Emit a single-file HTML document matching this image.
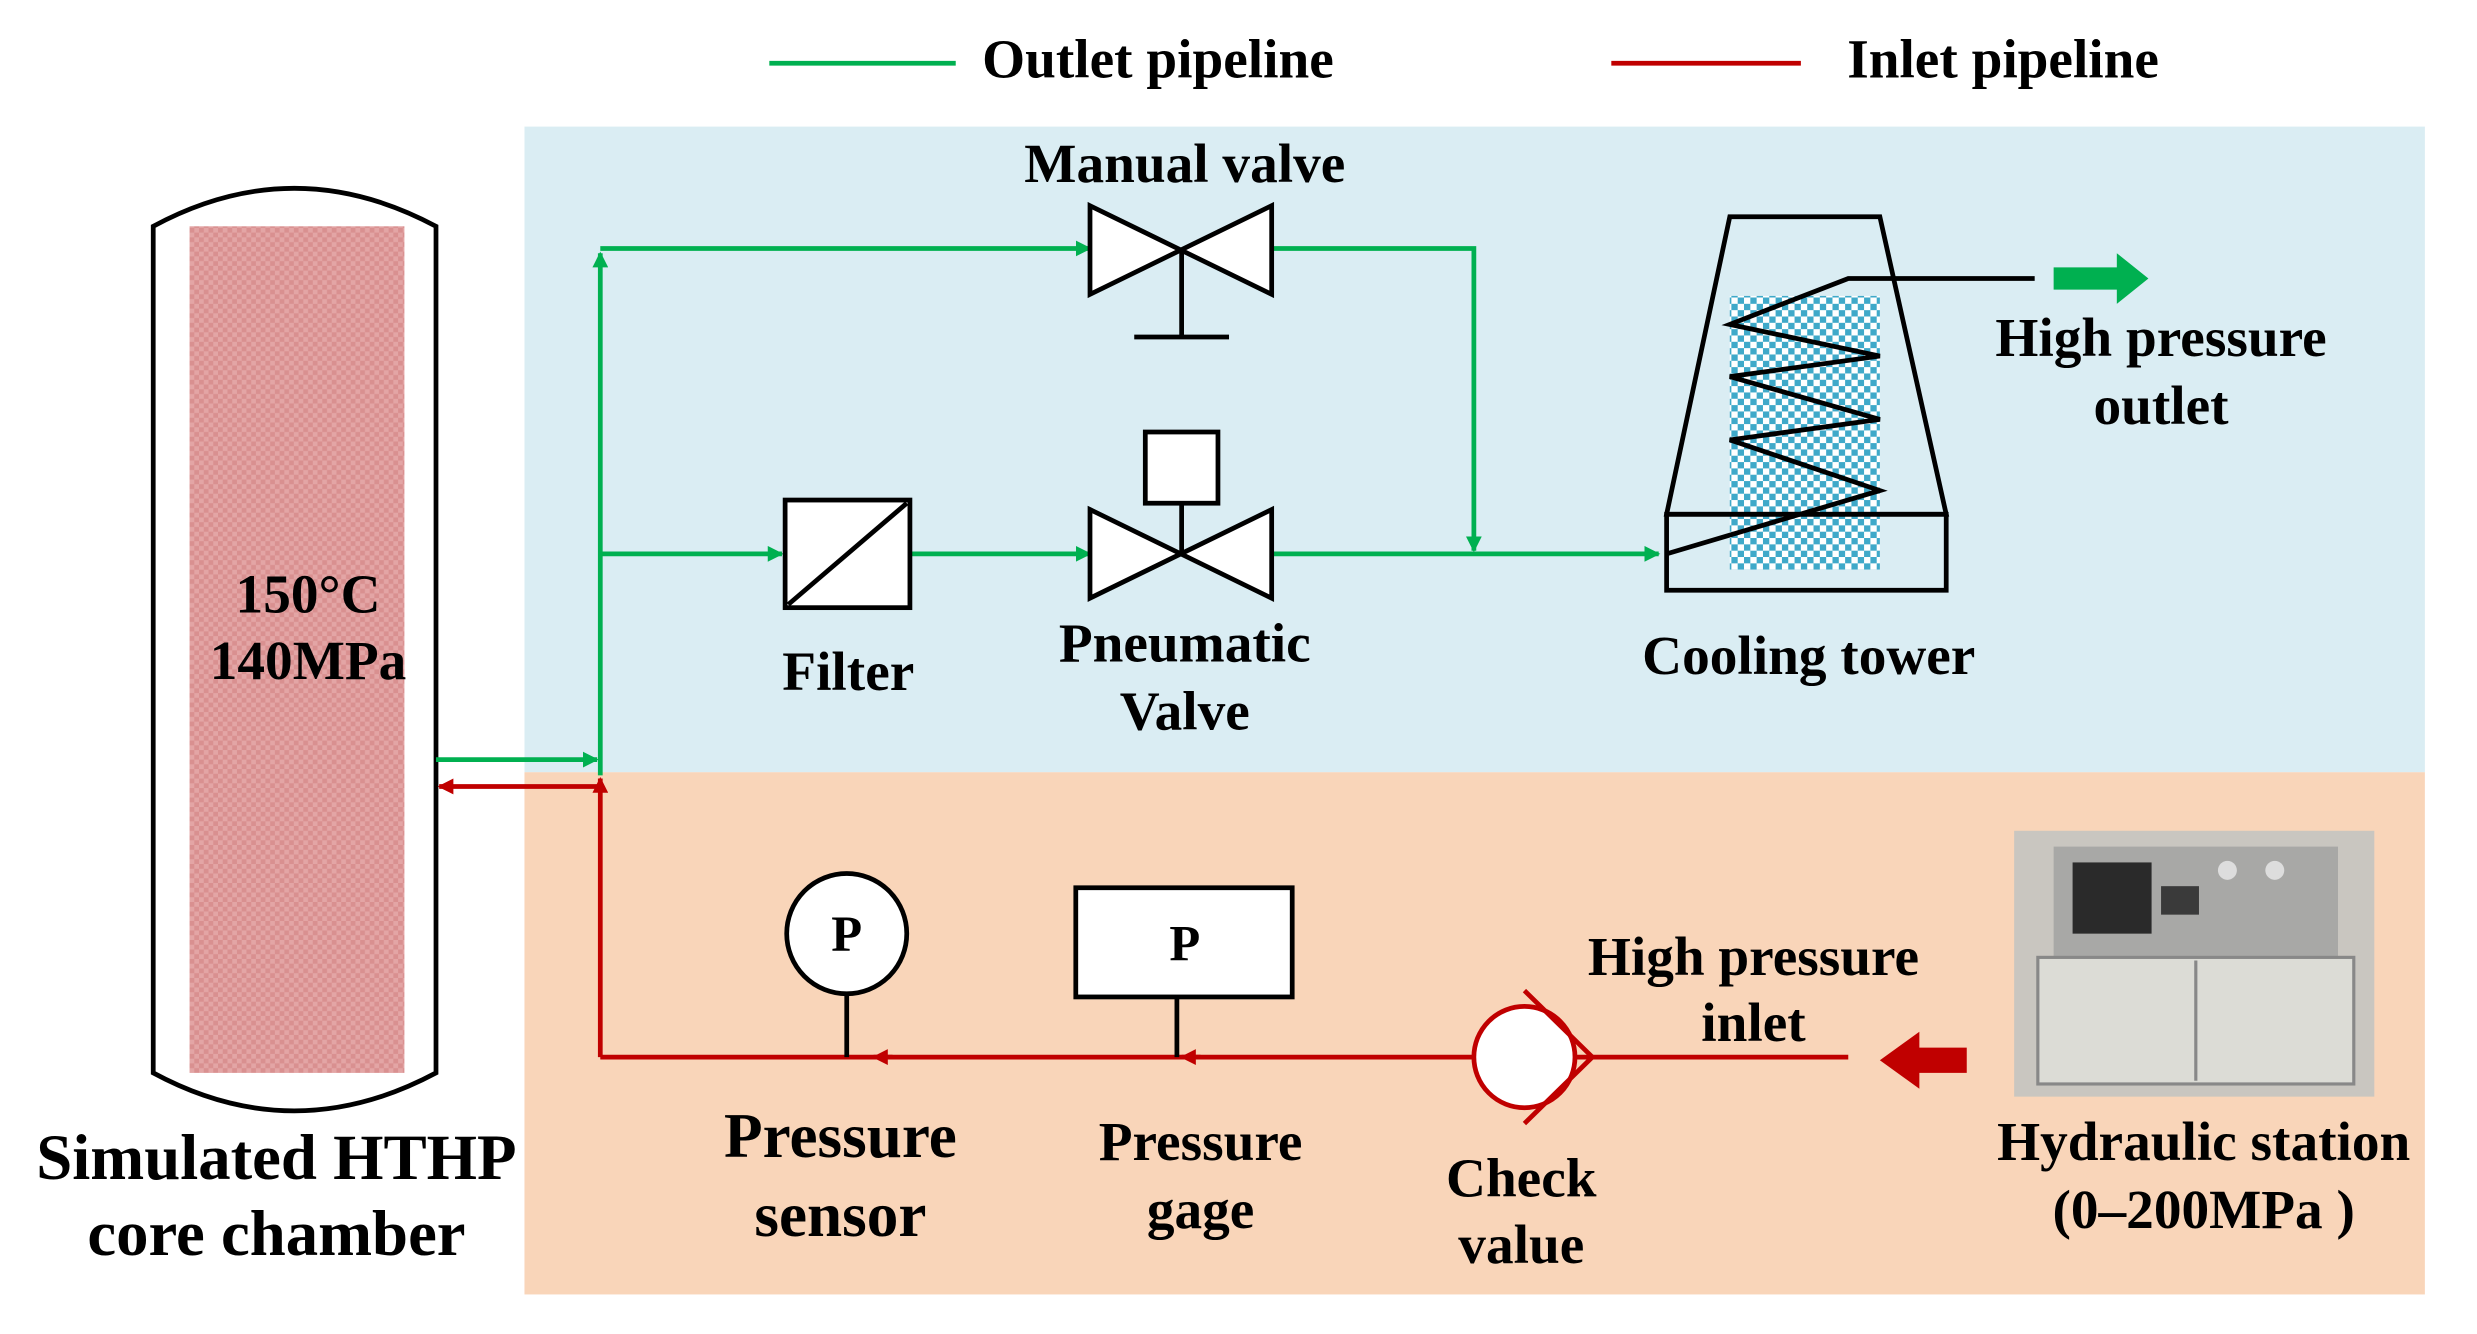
<!DOCTYPE html>
<html><head><meta charset="utf-8"><style>
html,body{margin:0;padding:0;background:#fff;}
svg{display:block;}
text{font-family:"Liberation Serif",serif;font-weight:bold;fill:#000;text-anchor:middle;}
</style></head><body>
<svg width="2477" height="1334" viewBox="0 0 1568 843" preserveAspectRatio="none" xmlns="http://www.w3.org/2000/svg">
<defs>
<marker id="ga" markerWidth="10" markerHeight="10" refX="9" refY="5" orient="auto" markerUnits="userSpaceOnUse" viewBox="0 0 10 10"><path d="M0,0 L10,5 L0,10 Z" fill="#00b050"/></marker>
<marker id="ra" markerWidth="10" markerHeight="10" refX="9" refY="5" orient="auto" markerUnits="userSpaceOnUse" viewBox="0 0 10 10"><path d="M0,0 L10,5 L0,10 Z" fill="#c00000"/></marker>
<pattern id="pk" width="6" height="6" patternUnits="userSpaceOnUse"><rect width="6" height="6" fill="#e3a5a5"/><rect width="3" height="3" fill="#d99090"/><rect x="3" y="3" width="3" height="3" fill="#d99090"/></pattern>
<pattern id="bl" width="8" height="8" patternUnits="userSpaceOnUse"><rect width="8" height="8" fill="#ffffff"/><rect width="4" height="4" fill="#3fa9c9"/><rect x="4" y="4" width="4" height="4" fill="#3fa9c9"/></pattern>
</defs>
<rect x="332" y="80" width="1203" height="408" fill="#daedf3"/>
<rect x="332" y="488" width="1203" height="330" fill="#f9d5b9"/>
<line x1="487" y1="40" x2="605" y2="40" stroke="#00b050" stroke-width="3"/>
<text x="733" y="49" font-size="35">Outlet pipeline</text>
<line x1="1020" y1="40" x2="1140" y2="40" stroke="#c00000" stroke-width="3"/>
<text x="1268" y="49" font-size="35">Inlet pipeline</text>
<path d="M97,143 Q186,95 276,143 L276,678 Q186,726 97,678 Z" fill="#fff" stroke="#000" stroke-width="3"/>
<rect x="120" y="143" width="136" height="535" fill="url(#pk)"/>
<text x="195" y="387" font-size="35">150°C</text>
<text x="195" y="429" font-size="35">140MPa</text>
<text x="175" y="745" font-size="41">Simulated HTHP</text>
<text x="175" y="793" font-size="41">core chamber</text>
<g stroke="#00b050" stroke-width="3" fill="none">
<line x1="276" y1="480" x2="378" y2="480" marker-end="url(#ga)"/>
<line x1="380" y1="490" x2="380" y2="160" marker-end="url(#ga)"/>
<line x1="380" y1="157" x2="690" y2="157" marker-end="url(#ga)"/>
<line x1="380" y1="350" x2="495" y2="350" marker-end="url(#ga)"/>
<line x1="576" y1="350" x2="690" y2="350" marker-end="url(#ga)"/>
<polyline points="805,157 933,157 933,348" marker-end="url(#ga)"/>
<line x1="805" y1="350" x2="1050" y2="350" marker-end="url(#ga)"/>
</g>
<rect x="497" y="316" width="79" height="68" fill="#fff" stroke="#000" stroke-width="3"/>
<line x1="499" y1="382" x2="574" y2="318" stroke="#000" stroke-width="3"/>
<g stroke="#000" stroke-width="3" fill="#fff">
<path d="M690,130 L805,186 L805,130 L690,186 Z"/>
<line x1="748" y1="158" x2="748" y2="213"/>
<line x1="718" y1="213" x2="778" y2="213"/>
<path d="M690,322 L805,378 L805,322 L690,378 Z"/>
<line x1="748" y1="318" x2="748" y2="350"/>
<rect x="725" y="273" width="46" height="45"/>
</g>
<text x="750" y="115" font-size="35">Manual valve</text>
<text x="537" y="436" font-size="35">Filter</text>
<text x="750" y="418" font-size="35">Pneumatic</text>
<text x="750" y="461" font-size="35">Valve</text>
<rect x="1095" y="187" width="95" height="173" fill="url(#bl)"/>
<g stroke="#000" stroke-width="3" fill="none">
<path d="M1095,137 L1190,137 L1232,325 L1055,325 Z"/>
<rect x="1055" y="325" width="177" height="48"/>
<polyline points="1055,350 1190,310 1095,278 1190,265 1095,238 1190,225 1095,205 1170,176 1288,176"/>
</g>
<path d="M1300,169 L1340,169 L1340,160 L1360,176 L1340,192 L1340,183 L1300,183 Z" fill="#00b050"/>
<text x="1145" y="426" font-size="35">Cooling tower</text>
<text x="1368" y="225" font-size="35">High pressure</text>
<text x="1368" y="268" font-size="35">outlet</text>
<g stroke="#c00000" stroke-width="3" fill="none">
<polyline points="380,668 380,492" marker-end="url(#ra)"/>
<line x1="380" y1="497" x2="278" y2="497" marker-end="url(#ra)"/>
<line x1="1170" y1="668" x2="380" y2="668"/>
<line x1="760" y1="668" x2="748" y2="668" marker-end="url(#ra)"/>
<line x1="565" y1="668" x2="553" y2="668" marker-end="url(#ra)"/>
<circle cx="965" cy="668" r="32" fill="#fff"/>
<polyline points="965,626 1008,668 965,710"/>
</g>
<path d="M1245,662 L1215,662 L1215,652 L1190,670 L1215,688 L1215,678 L1245,678 Z" fill="#c00000"/>
<g stroke="#000" stroke-width="3" fill="#fff">
<circle cx="536" cy="590" r="38"/>
<line x1="536" y1="628" x2="536" y2="668"/>
<rect x="681" y="561" width="137" height="69"/>
<line x1="745" y1="630" x2="745" y2="668"/>
</g>
<text x="536" y="601" font-size="32">P</text>
<text x="750" y="607" font-size="32">P</text>
<text x="532" y="731" font-size="40">Pressure</text>
<text x="532" y="781" font-size="40">sensor</text>
<text x="760" y="733" font-size="35">Pressure</text>
<text x="760" y="776" font-size="35">gage</text>
<text x="963" y="756" font-size="35">Check</text>
<text x="963" y="798" font-size="35">value</text>
<text x="1110" y="616" font-size="35">High pressure</text>
<text x="1110" y="658" font-size="35">inlet</text>
<rect x="1275" y="525" width="228" height="168" fill="#c9c6c0"/>
<rect x="1300" y="535" width="180" height="70" fill="#a8a8a6"/>
<rect x="1312" y="545" width="50" height="45" fill="#2a2a2a"/>
<rect x="1368" y="560" width="24" height="18" fill="#3a3a3a"/>
<circle cx="1410" cy="550" r="6" fill="#ddd"/><circle cx="1440" cy="550" r="6" fill="#ddd"/>
<rect x="1290" y="605" width="200" height="80" fill="#dcdcd6" stroke="#888" stroke-width="2"/>
<line x1="1390" y1="607" x2="1390" y2="683" stroke="#888" stroke-width="2"/>
<text x="1395" y="733" font-size="35">Hydraulic station</text>
<text x="1395" y="776" font-size="35">(0–200MPa )</text>
</svg>
</body></html>
